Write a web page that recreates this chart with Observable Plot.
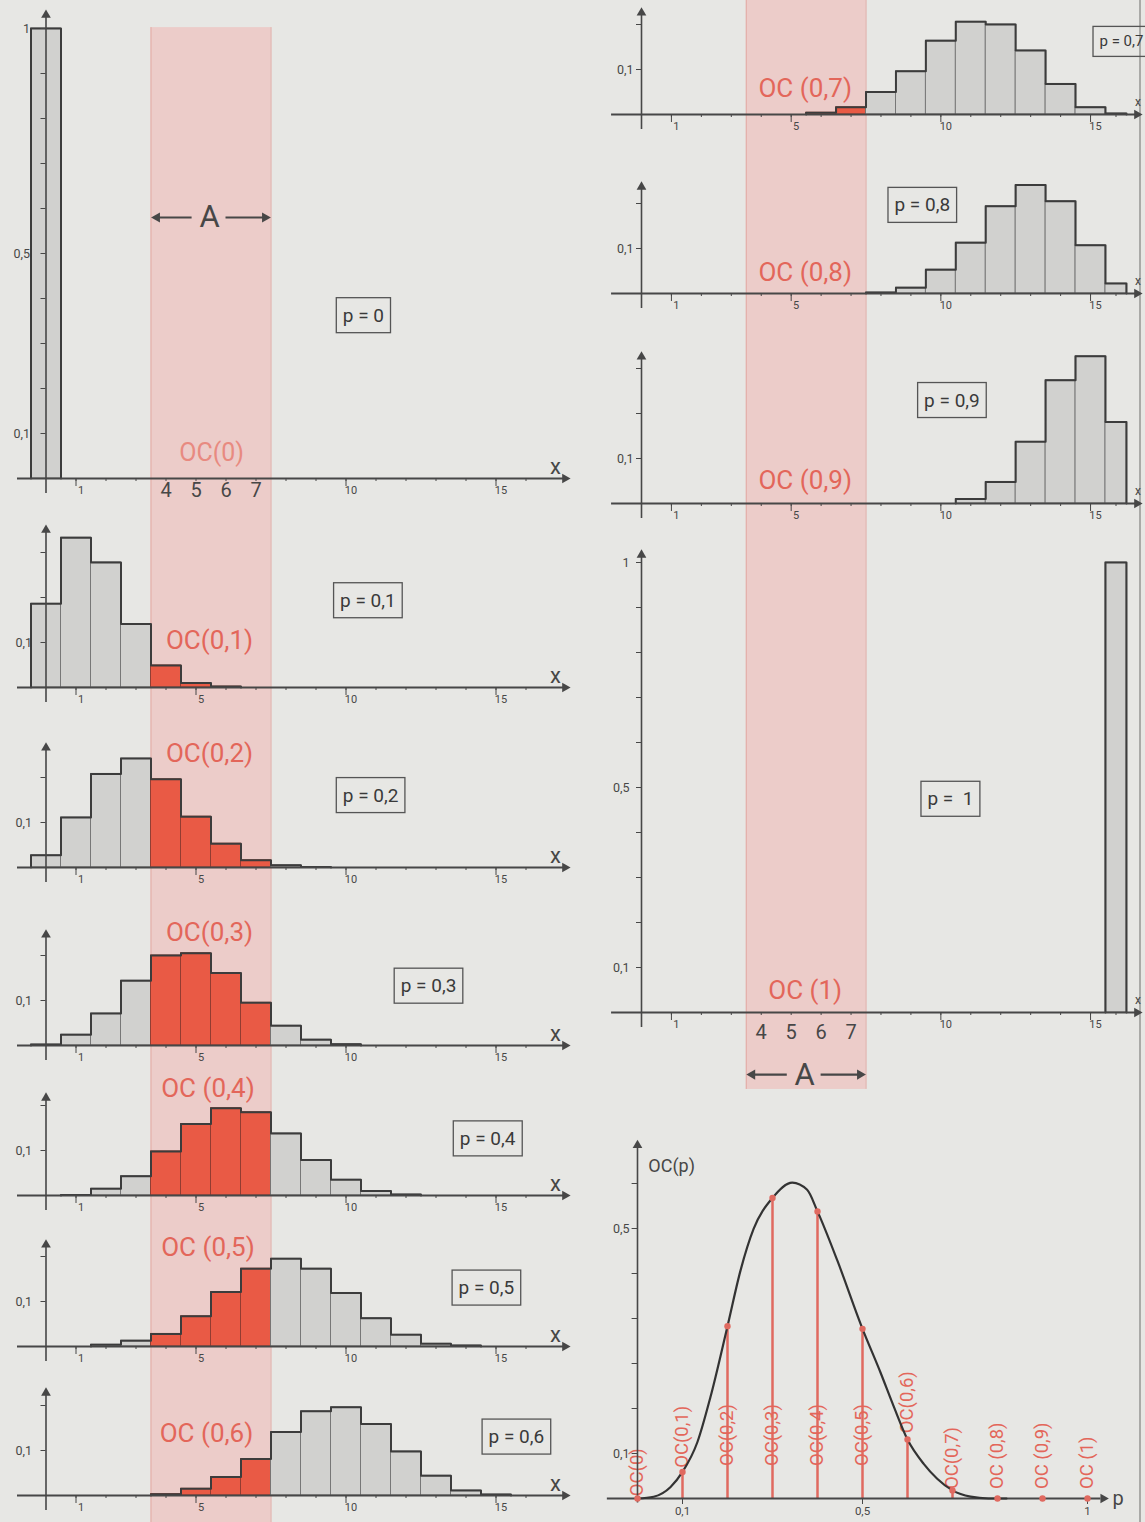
<!DOCTYPE html>
<html>
<head>
<meta charset="utf-8">
<script src="https://cdn.jsdelivr.net/npm/d3@7"></script>
<script src="https://cdn.jsdelivr.net/npm/@observablehq/plot@0.6"></script>
<style>
  html,body{margin:0;padding:0;background:#e7e7e4;}
  #root{position:relative;width:1145px;height:1522px;overflow:hidden;background:#e7e7e4;}
  #root svg{position:absolute;overflow:visible;}
  #edge{position:absolute;left:1139px;top:0;width:1.5px;height:1522px;background:#aaaaa7;}
</style>
</head>
<body>
<div id="root"><div id="edge"></div></div>
<script>
// ---------------- data ----------------
const outcomes = [0,1,2,3,4,5,6,7,8,9,10,11,12,13,14,15,16];
const acceptRegion = [4,5,6,7];

const prob_p00 = [1,0,0,0,0,0,0,0,0,0,0,0,0,0,0,0,0];
const prob_p01 = [0.186,0.333,0.278,0.141,0.049,0.010,0.002,0,0,0,0,0,0,0,0,0,0];
const prob_p02 = [0.027,0.111,0.208,0.242,0.196,0.113,0.053,0.016,0.005,0.001,0,0,0,0,0,0,0];
const prob_p03 = [0.002,0.024,0.071,0.144,0.200,0.205,0.161,0.095,0.044,0.013,0.003,0,0,0,0,0,0];
const prob_p04 = [0,0.001,0.015,0.043,0.098,0.159,0.194,0.185,0.138,0.079,0.035,0.010,0.002,0,0,0,0];
const prob_p05 = [0,0,0.004,0.013,0.028,0.067,0.121,0.173,0.195,0.173,0.119,0.063,0.026,0.006,0.002,0,0];
const prob_p06 = [0,0,0,0,0.003,0.015,0.041,0.081,0.141,0.187,0.196,0.159,0.098,0.044,0.011,0.002,0];
const prob_p07 = [0,0,0,0,0,0,0.004,0.016,0.050,0.096,0.164,0.206,0.200,0.142,0.068,0.016,0.002];
const prob_p08 = [0,0,0,0,0,0,0,0,0.002,0.013,0.053,0.113,0.194,0.241,0.205,0.107,0.022];
const prob_p09 = [0,0,0,0,0,0,0,0,0,0,0,0.010,0.048,0.137,0.274,0.327,0.181];
const prob_p10 = [0,0,0,0,0,0,0,0,0,0,0,0,0,0,0,0,1];

const xTickLabelsSmall = [1,5,10,15];
const xTickLabelsBig = [1,10,15];
const yTicksBig = [0.1,0.2,0.3,0.4,0.5,0.6,0.7,0.8,0.9,1];
const yTickTextBig = ["0,1","","","","0,5","","","","","1"];
const yTicks2 = [0.1,0.2];
const yTickText2 = ["0,1",""];
const yTicks3 = [0.1,0.2,0.3];
const yTickText3 = ["0,1","",""];

const ocP = [0,0.1,0.2,0.3,0.4,0.5,0.6,0.7,0.8,0.9,1];
const ocValue = [0,0.059,0.383,0.668,0.638,0.377,0.131,0.018,0,0,0];
const ocLabelText = ["OC(0)","OC(0,1)","OC(0,2)","OC(0,3)","OC(0,4)","OC(0,5)","OC(0,6)","OC(0,7)","OC (0,8)","OC (0,9)","OC (1)"];
const curveP  = [0,0.036,0.073,0.1,0.133,0.162,0.2,0.229,0.258,0.3,0.344,0.377,0.4,0.444,0.5,0.54,0.57,0.6,0.636,0.666,0.7,0.74,0.78,0.82];
const curveOC = [0,0.004,0.025,0.059,0.125,0.225,0.383,0.507,0.599,0.668,0.702,0.686,0.638,0.529,0.377,0.28,0.203,0.131,0.077,0.044,0.018,0.004,0,0];
const ocYTicks = [0.1,0.2,0.3,0.4,0.5,0.6,0.7];
const ocYTickText = ["0,1","","","","","0,5",""];
const ocXTicks = [0.1,0.5,1];
const ocXTickText = ["0,1","0,5","1"];

// ---------------- style ----------------
const FONT = "Roboto, 'DejaVu Sans', sans-serif";
const Y = 450;            // px per probability unit
const RED_BAR = "#e95a45";
const GREY_BAR = "#d1d1cf";
const BAND = "#ecccc9";
const BAND_EDGE = "#e2a9a3";
const INK = "#474747";
const RED_TXT = "#e3665a";
const STEM = "#e06a60";

const root = document.getElementById("root");
const xLeft  = {type:"linear", domain:[0,17], range:[45.5, 555.5]};
const xRight = {type:"linear", domain:[0,15.5,16.5], range:[69, 533, 554]};

function histPanel(c) {
  const yTop = c.B / Y, yBot = -(c.H - c.B) / Y;
  const aLo = d3.min(acceptRegion) - 0.5, aHi = d3.max(acceptRegion) + 0.5;
  const bars = outcomes.map((x,i)=>({x, p:c.probs[i], acc:acceptRegion.includes(x)})).filter(d=>d.p>0);
  const f = bars[0].x, l = bars[bars.length-1].x;
  const hAt = new Map(bars.map(d=>[d.x,d.p]));
  const env = [{x:f-0.5, y:0}];
  for (let k=f; k<=l; k++) env.push({x:k-0.5, y:hAt.get(k)||0});
  env.push({x:l+0.5, y:hAt.get(l)}, {x:l+0.5, y:0});
  const yTickList = c.yTicks.map((v,i)=>({v, t:c.yTickText[i]}));
  const bTop = c.bandTop ?? yTop, bBot = c.bandBottom ?? yBot;
  const marks = [
    Plot.rect([0], {x1:aLo, x2:aHi, y1:bBot, y2:bTop, fill:BAND}),
    Plot.ruleX([aLo,aHi], {y1:bBot, y2:bTop, stroke:BAND_EDGE, strokeWidth:1}),
    Plot.rect(bars, {x1:d=>d.x-0.5, x2:d=>d.x+0.5, y1:0, y2:"p",
      fill:d=>d.acc?RED_BAR:GREY_BAR, stroke:d=>d.acc?"#8e3b30":"#727272", strokeWidth:0.9}),
    Plot.line(env, {x:"x", y:"y", curve:"step-after", stroke:"#3c3c3c", strokeWidth:2}),
    Plot.ruleY([0], {x1:c.xStart, x2:c.xEnd, stroke:INK, strokeWidth:2}),
    Plot.dot([0], {x:c.xEnd, y:0, symbol:"triangle", r:3.6, fill:INK, rotate:90}),
    Plot.ruleX(outcomes.slice(1), {y1:0, y2:-3/Y, stroke:INK, strokeWidth:1}),
    Plot.ruleX(c.xLabels, {y1:0, y2:-8/Y, stroke:INK, strokeWidth:1}),
    Plot.text(c.xLabels, {x:d=>d, y:0, dy:12, dx:5, text:d=>String(d), fontSize:11, fill:INK}),
    Plot.ruleX([0], {y1:-15/Y, y2:c.yAxisTop, stroke:INK, strokeWidth:1.6}),
    Plot.dot([0], {x:0, y:c.yAxisTop, symbol:"triangle", r:3.6, fill:INK}),
    Plot.ruleY(c.yTicks, {x1:-5/30, x2:0, stroke:INK, strokeWidth:1}),
    Plot.text(yTickList.filter(d=>d.t), {x:0, y:"v", text:"t", dx:c.yLabelDx, textAnchor:"end", fontSize:12.5, fill:INK}),
    Plot.text([c.boxText], {x:c.boxX, y:c.boxY, text:d=>d, fontSize:c.boxSize||19, fill:"#3a3a3a",
      textAnchor:c.boxAnchor||"middle"}),
    Plot.text([c.ocText], {x:c.ocX, y:c.ocY, text:d=>d, fontSize:c.ocSize||26, fill:c.ocColor||RED_TXT}),
    Plot.text(["x"], {x:c.xLetterX, y:0, dy:-12, text:d=>d, fontSize:c.xLetterSize||22, fill:INK})
  ];
  if (c.bigDy !== undefined) {
    marks.push(Plot.text(acceptRegion, {x:d=>d, y:0, dy:c.bigDy, text:d=>String(d), fontSize:20, fill:INK}));
  }
  if (c.aY !== undefined) {
    const mid = (aLo+aHi)/2 - 0.05;
    marks.push(
      Plot.ruleY([c.aY], {x1:aLo+0.12, x2:mid-0.58, stroke:INK, strokeWidth:2.2}),
      Plot.ruleY([c.aY], {x1:mid+0.55, x2:aHi-0.12, stroke:INK, strokeWidth:2.2}),
      Plot.dot([c.aY], {x:aLo+0.2, y:d=>d, symbol:"triangle", r:3.8, fill:INK, rotate:-90}),
      Plot.dot([c.aY], {x:aHi-0.2, y:d=>d, symbol:"triangle", r:3.8, fill:INK, rotate:90}),
      Plot.text(["A"], {x:mid, y:c.aY, text:d=>d, fontSize:31, fill:INK})
    );
  }
  const svg = Plot.plot({
    width:c.W, height:c.H, margin:0,
    x:{...c.xScale, axis:null},
    y:{type:"linear", domain:[yBot,yTop], range:[c.H,0], axis:null},
    style:{fontFamily:FONT, background:"transparent", overflow:"visible"},
    marks
  });
  svg.style.left = c.left + "px";
  svg.style.top = c.top + "px";
  root.appendChild(svg);
  return svg;
}

const L = {left:0, W:572, xScale:xLeft, xStart:-0.95, xEnd:17.3, xLetterX:16.98, yLabelDx:-14};
const R = {left:572, W:573, xScale:xRight, xStart:-1.0, xEnd:17.0, xLetterX:17.05, xLetterSize:12, yLabelDx:-8};

const panels = [
  {...L, top:0,    H:512, B:478, probs:prob_p00, yAxisTop:1.03, yTicks:yTicksBig, yTickText:yTickTextBig,
   xLabels:xTickLabelsBig, boxText:"p = 0", boxX:10.58, boxY:0.362, ocText:"OC(0)", ocX:5.52, ocY:0.056,
   ocSize:25, ocColor:"#e88a80", bigDy:12, aY:0.58, bandTop:1.002, yLabelDx:-16},
  {...L, top:512,  H:208, B:175, probs:prob_p01, yAxisTop:0.35, yTicks:yTicks3, yTickText:yTickText3,
   xLabels:xTickLabelsSmall, boxText:"p = 0,1", boxX:10.73, boxY:0.193, ocText:"OC(0,1)", ocX:5.45, ocY:0.104},
  {...L, top:720,  H:185, B:147, probs:prob_p02, yAxisTop:0.266, yTicks:yTicks2, yTickText:yTickText2,
   xLabels:xTickLabelsSmall, boxText:"p = 0,2", boxX:10.82, boxY:0.16, ocText:"OC(0,2)", ocX:5.45, ocY:0.253},
  {...L, top:905,  H:157, B:140, probs:prob_p03, yAxisTop:0.246, yTicks:yTicks2, yTickText:yTickText2,
   xLabels:xTickLabelsSmall, boxText:"p = 0,3", boxX:12.75, boxY:0.132, ocText:"OC(0,3)", ocX:5.45, ocY:0.251},
  {...L, top:1062, H:156, B:133, probs:prob_p04, yAxisTop:0.217, yTicks:yTicks2, yTickText:yTickText2,
   xLabels:xTickLabelsSmall, boxText:"p = 0,4", boxX:14.72, boxY:0.126, ocText:"OC (0,4)", ocX:5.4, ocY:0.238},
  {...L, top:1218, H:150, B:128, probs:prob_p05, yAxisTop:0.226, yTicks:yTicks2, yTickText:yTickText2,
   xLabels:xTickLabelsSmall, boxText:"p = 0,5", boxX:14.68, boxY:0.13, ocText:"OC (0,5)", ocX:5.4, ocY:0.22},
  {...L, top:1368, H:154, B:127, probs:prob_p06, yAxisTop:0.228, yTicks:yTicks2, yTickText:yTickText2,
   xLabels:xTickLabelsSmall, boxText:"p = 0,6", boxX:15.68, boxY:0.13, ocText:"OC (0,6)", ocX:5.35, ocY:0.138},
  {...R, top:0,    H:145, B:114, probs:prob_p07, yAxisTop:0.226, yTicks:yTicks2, yTickText:yTickText2,
   xLabels:xTickLabelsSmall, boxText:"p = 0,7", boxX:15.3, boxY:0.162, boxAnchor:"start", boxSize:15,
   ocText:"OC (0,7)", ocX:5.47, ocY:0.058},
  {...R, top:145,  H:185, B:148, probs:prob_p08, yAxisTop:0.237, yTicks:yTicks2, yTickText:yTickText2,
   xLabels:xTickLabelsSmall, boxText:"p = 0,8", boxX:9.38, boxY:0.196, ocText:"OC (0,8)", ocX:5.47, ocY:0.047},
  {...R, top:330,  H:205, B:173, probs:prob_p09, yAxisTop:0.326, yTicks:yTicks3, yTickText:yTickText3,
   xLabels:xTickLabelsSmall, boxText:"p = 0,9", boxX:10.37, boxY:0.229, ocText:"OC (0,9)", ocX:5.47, ocY:0.051},
  {...R, top:535,  H:560, B:477, probs:prob_p10, yAxisTop:1.017, yTicks:yTicksBig, yTickText:yTickTextBig,
   xLabels:xTickLabelsBig, boxText:"p =  1", boxX:10.32, boxY:0.474, ocText:"OC (1)", ocX:5.47, ocY:0.049,
   bigDy:20, aY:-0.138, bandBottom:-0.171, yLabelDx:-12}
];
const svgs = panels.map(histPanel);

// ---------------- OC curve ----------------
function ocPanel() {
  const W = 573, H = 392, B = 368, top = 1130, left = 572;
  const pts = ocP.map((p,i)=>({p, v:ocValue[i], label:ocLabelText[i], i}));
  const curve = curveP.map((p,i)=>({p, v:curveOC[i]}));
  const labelY = d => d.i===0 ? 0.004 : d.i===1 ? d.v+0.008 : (d.i>=2 && d.i<=5) ? 0.071 : d.i===6 ? d.v+0.013 : 0.02;
  const labelDx = d => d.i===0 ? 10 : (d.i>=2 && d.i<=5) ? 11 : d.i===6 ? 1 : 0;
  const yT = ocYTicks.map((v,i)=>({v, t:ocYTickText[i]}));
  const xT = ocXTicks.map((v,i)=>({v, t:ocXTickText[i]}));
  const svg = Plot.plot({
    width:W, height:H, margin:0,
    x:{type:"linear", domain:[0,1], range:[65,515], axis:null},
    y:{type:"linear", domain:[-(H-B)/Y, B/Y], range:[H,0], axis:null},
    style:{fontFamily:FONT, background:"transparent", overflow:"visible"},
    marks:[
      Plot.ruleX(pts, {x:"p", y1:0, y2:"v", stroke:STEM, strokeWidth:2.5}),
      Plot.text(pts, {x:"p", y:labelY, dx:labelDx, text:"label", rotate:-90, textAnchor:"start",
        fontSize:18.5, fill:RED_TXT}),
      Plot.ruleY([0], {x1:-0.067, x2:1.03, stroke:INK, strokeWidth:2}),
      Plot.dot([0], {x:1.035, y:0, symbol:"triangle", r:3.6, fill:INK, rotate:90}),
      Plot.text(["p"], {x:1.068, y:0, text:d=>d, fontSize:20, fill:INK}),
      Plot.ruleX([0], {y1:-0.01, y2:0.785, stroke:INK, strokeWidth:1.6}),
      Plot.dot([0], {x:0, y:0.785, symbol:"triangle", r:3.6, fill:INK}),
      Plot.text(["OC(p)"], {x:0.024, y:0.738, text:d=>d, textAnchor:"start", fontSize:18, fill:INK}),
      Plot.ruleY(ocYTicks, {x1:-0.012, x2:0, stroke:INK, strokeWidth:1}),
      Plot.text(yT.filter(d=>d.t), {x:0, y:"v", text:"t", dx:-8, textAnchor:"end", fontSize:12.5, fill:INK}),
      Plot.ruleX(ocXTicks, {y1:0, y2:-6/Y, stroke:INK, strokeWidth:1}),
      Plot.text(xT, {x:"v", y:0, dy:13, text:"t", fontSize:11.5, fill:INK}),
      Plot.line(curve, {x:"p", y:"v", curve:"monotone-x", stroke:"#333", strokeWidth:2.2}),
      Plot.dot(pts, {x:"p", y:"v", r:3.2, fill:STEM})
    ]
  });
  svg.style.left = left + "px";
  svg.style.top = top + "px";
  root.appendChild(svg);
}
ocPanel();

// boxes around the "p = ..." labels
for (const svg of svgs) {
  const texts = Array.from(svg.querySelectorAll("text")).filter(t => /^p\s*=/.test(t.textContent.trim()));
  for (const t of texts) {
    const b = t.getBBox();
    const r = document.createElementNS("http://www.w3.org/2000/svg", "rect");
    r.setAttribute("x", b.x - 6.5);
    r.setAttribute("y", b.y - 6);
    r.setAttribute("width", b.width + 13);
    r.setAttribute("height", b.height + 12);
    if (t.getAttribute("transform")) r.setAttribute("transform", t.getAttribute("transform"));
    r.setAttribute("fill", "none");
    r.setAttribute("stroke", "#555");
    r.setAttribute("stroke-width", "1.3");
    t.parentNode.insertBefore(r, t);
  }
}
</script>
</body>
</html>
